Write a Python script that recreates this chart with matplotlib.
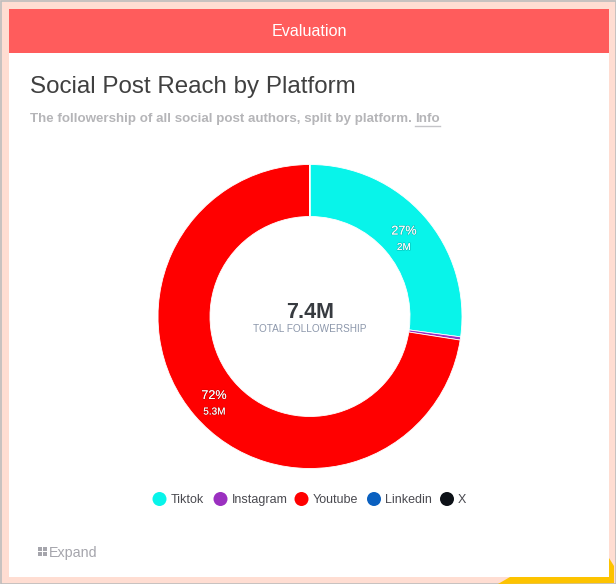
import matplotlib
matplotlib.use("Agg")
import matplotlib.pyplot as plt
import matplotlib.patheffects as pe
from matplotlib.patches import Rectangle, Ellipse, Polygon

plt.rcParams['font.family'] = ['Liberation Sans', 'DejaVu Sans']

platforms = ["Tiktok", "Instagram", "Youtube", "Linkedin", "X"]
values = [2.0, 0.025, 5.34, 0.002, 0.002]
colors = ["#08F4EA", "#9B30C0", "#FF0000", "#0A60C0", "#0D1117"]
legend_x = [159.5, 220.5, 301.5, 374, 447]
legend_text_x = [171, 232, 313, 385, 458]

W, H = 616, 584
fig = plt.figure(figsize=(W/100, H/100), dpi=100, facecolor="#FFDDD2")
bg = fig.add_axes([0, 0, 1, 1])
bg.set_xlim(0, W); bg.set_ylim(H, 0); bg.axis("off")

# frame
bg.add_patch(Rectangle((0.5, 0.5), W-1, H-1, fill=False, ec="#BDBDBD", lw=1.2))
bg.add_patch(Polygon([(498, 584), (510, 577), (609, 577), (609, 558), (614, 566), (614, 583)], fc="#FDC300", ec="none"))
bg.add_patch(Rectangle((9, 9), 600, 568, fc="white", ec="none"))
bg.add_patch(Rectangle((9, 9), 600, 44, fc="#FF5C5C", ec="none"))

bg.text(309, 31.5, "Evaluation", color="white", fontsize=11.6, ha="center", va="center")
bg.text(29.5, 93, "Social Post Reach by Platform", color="#404040", fontsize=17.4, ha="left", va="baseline")
bg.text(30, 122, "The followership of all social post authors, split by platform.", color="#B5B5B8",
        fontsize=9.6, fontweight="bold", ha="left", va="baseline")
bg.text(415.5, 122, "Info", color="#B5B5B8", fontsize=9.6, fontweight="bold", ha="left", va="baseline")
bg.plot([415, 440], [125.5, 125.5], color="#C4C4C8", lw=1)

# donut
R = 152
cx, cy = 310, 316.5
ax = fig.add_axes([(cx-R-4)/W, 1-(cy+R+4)/H, (2*R+8)/W, (2*R+8)/H])
ax.set_facecolor("none")
ax.pie(values, colors=colors, startangle=90, counterclock=False, radius=1.0,
       wedgeprops=dict(width=52/R, edgecolor="white", linewidth=0.6))
ax.set_xlim(-(R+4)/R, (R+4)/R); ax.set_ylim(-(R+4)/R, (R+4)/R)

shadow = [pe.withStroke(linewidth=1.0, foreground=(0, 0, 0, 0.18))]
for x, y, s, fs in [(404, 231.5, "27%", 9.1), (404, 247, "2M", 7.2),
                    (214, 396, "72%", 9.1), (214.5, 411.5, "5.3M", 7.2)]:
    fig.text(x/W, 1-y/H, s, color="white", fontsize=fs, ha="center", va="center", path_effects=shadow)

fig.text(310/W, 1-312.5/H, "7.4M", color="#373B40", fontsize=15.5, fontweight="bold", ha="center", va="center")
fig.text(310/W, 1-329/H, "TOTAL FOLLOWERSHIP", color="#8C97AB", fontsize=7.2, ha="center", va="center")

# legend
for name, c, lx, tx in zip(platforms, colors, legend_x, legend_text_x):
    bg.add_patch(Ellipse((lx, 499), 14, 14, fc=c, ec="none"))
    bg.text(tx, 503, name, color="#4A4A50", fontsize=9.0, ha="left", va="baseline")

# expand icon
for dx in (0, 5):
    for dy in (0, 5):
        bg.add_patch(Rectangle((38+dx, 547+dy), 4, 4, fc="#A5A5AC", ec="none"))
bg.text(49, 556.5, "Expand", color="#A5A5AC", fontsize=10.3, ha="left", va="baseline")

fig.savefig("out.png", dpi=100, facecolor=fig.get_facecolor())
